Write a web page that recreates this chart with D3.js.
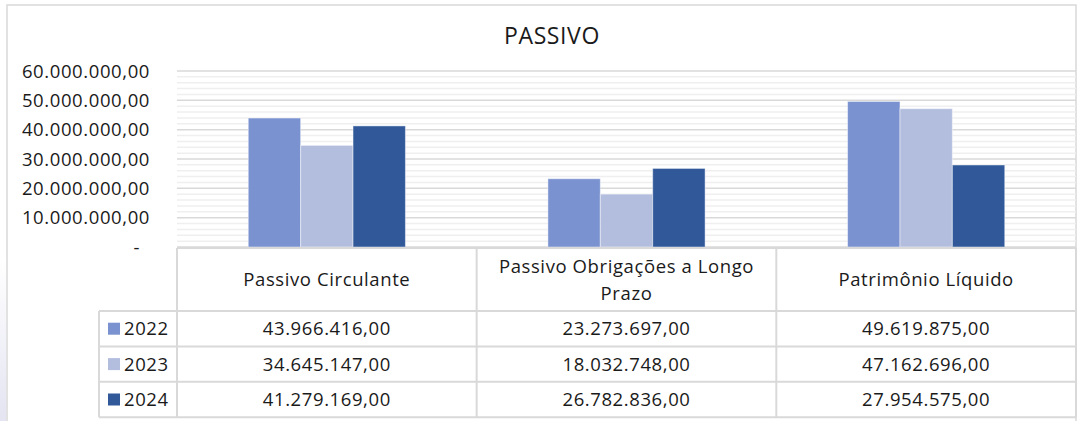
<!DOCTYPE html>
<html>
<head>
<meta charset="utf-8">
<title>PASSIVO</title>
<script src="https://cdnjs.cloudflare.com/ajax/libs/d3/7.8.5/d3.min.js"></script>
<style>
  body { margin: 0; background: #fff; }
  svg text { font-family: "Open Sans", sans-serif; fill: #1a1a1a; letter-spacing: 0.6px; }
</style>
</head>
<body>
<script>
// data
var categories = ["Passivo Circulante", "Passivo Obrigações a Longo Prazo", "Patrimônio Líquido"];
var years = ["2022", "2023", "2024"];
var values2022 = [43966416, 23273697, 49619875];
var values2023 = [34645147, 18032748, 47162696];
var values2024 = [41279169, 26782836, 27954575];
var yTicks = [0, 10000000, 20000000, 30000000, 40000000, 50000000, 60000000];
var colors = ["#7a92cf", "#b3bedf", "#31599a"];

var series = [values2022, values2023, values2024];

var W = 1081, H = 421;
var fs = "18.5px";
var svg = d3.select("body").append("svg").attr("width", W).attr("height", H);

// faint lavender strip on the far left
var grad = svg.append("defs").append("linearGradient")
  .attr("id", "lav").attr("x1", 0).attr("x2", 0).attr("y1", 0).attr("y2", 1);
grad.append("stop").attr("offset", "0%").attr("stop-color", "#fff");
grad.append("stop").attr("offset", "100%").attr("stop-color", "#e4e4f2");
svg.append("rect").attr("x", 0).attr("y", 260).attr("width", 6).attr("height", 161).attr("fill", "url(#lav)");

// chart border
svg.append("rect")
  .attr("x", 7).attr("y", 5).attr("width", 1069).attr("height", 430)
  .attr("fill", "#fff").attr("stroke", "#d9d9d9").attr("stroke-width", 1.5);

// title
svg.append("text")
  .attr("x", 552).attr("y", 44)
  .attr("text-anchor", "middle")
  .style("font-size", "23px")
  .text("PASSIVO");

// scales
var x = d3.scaleBand().domain(categories).range([177, 1076]);
var xi = d3.scaleBand().domain(years).range([0, x.bandwidth()]).paddingInner(0).paddingOuter(1.36);
var y = d3.scaleLinear().domain([0, 60000000]).range([247, 71]);

// minor gridlines
svg.append("g").selectAll("line")
  .data(d3.range(0, 60000001, 2000000).filter(function(d) { return d % 10000000 !== 0; }))
  .join("line")
  .attr("x1", 177).attr("x2", 1076)
  .attr("y1", function(d) { return y(d); }).attr("y2", function(d) { return y(d); })
  .attr("stroke", "#efefef").attr("stroke-width", 1.5);

// major gridlines
svg.append("g").selectAll("line")
  .data(yTicks)
  .join("line")
  .attr("x1", 177).attr("x2", 1076)
  .attr("y1", function(d) { return y(d); }).attr("y2", function(d) { return y(d); })
  .attr("stroke", "#d9d9d9").attr("stroke-width", 1.5);

// y axis labels
var br = d3.formatLocale({decimal: ",", thousands: ".", grouping: [3], currency: ["R$", ""]});
var fmt = br.format(",.2f");
var yAxis = d3.axisLeft(y).tickValues(yTicks).tickSize(0).tickPadding(0)
  .tickFormat(function(d) { return d === 0 ? "-" : fmt(d); });
var ya = svg.append("g").attr("transform", "translate(150,0)").call(yAxis);
ya.select(".domain").remove();
ya.selectAll("text").style("font-size", fs).style("font-family", "'Open Sans', sans-serif")
  .attr("fill", "#1a1a1a").attr("dy", "0.34em");
ya.selectAll(".tick").filter(function(d) { return d === 0; }).select("text")
  .attr("x", -10);

// bars
var groups = svg.append("g").selectAll("g")
  .data(years)
  .join("g")
  .attr("fill", function(d, i) { return colors[i]; });

groups.selectAll("rect")
  .data(function(yr, i) { return categories.map(function(c, j) { return {cat: c, yr: yr, v: series[i][j]}; }); })
  .join("rect")
  .attr("x", function(d) { return x(d.cat) + xi(d.yr); })
  .attr("width", xi.bandwidth())
  .attr("y", function(d) { return y(d.v); })
  .attr("height", function(d) { return y(0) - y(d.v); })
  .attr("stroke", "rgba(255,255,255,0.45)").attr("stroke-width", 1);

// data table
var tTop = 248, hdrH = 63, rowH = 35.4;
var legLeft = 99, right = 1076;
var border = svg.append("g").attr("stroke", "#d9d9d9").attr("stroke-width", 2).attr("fill", "none");

// header row
border.append("line").attr("x1", 177).attr("x2", right).attr("y1", tTop).attr("y2", tTop);
// row lines
[0, 1, 2, 3].forEach(function(i) {
  var yy = tTop + hdrH + i * rowH;
  border.append("line").attr("x1", legLeft).attr("x2", right).attr("y1", yy).attr("y2", yy);
});
// vertical lines
border.append("line").attr("x1", legLeft).attr("x2", legLeft).attr("y1", tTop + hdrH).attr("y2", tTop + hdrH + 3 * rowH);
categories.forEach(function(c) {
  border.append("line").attr("x1", x(c)).attr("x2", x(c)).attr("y1", tTop).attr("y2", tTop + hdrH + 3 * rowH);
});
border.append("line").attr("x1", right).attr("x2", right).attr("y1", tTop).attr("y2", tTop + hdrH + 3 * rowH);

// header text
var hdr = svg.append("g");
categories.forEach(function(c) {
  var cx = x(c) + x.bandwidth() / 2;
  var lines = c === "Passivo Obrigações a Longo Prazo" ? ["Passivo Obrigações a Longo", "Prazo"] : [c];
  var cy = tTop + hdrH / 2;
  lines.forEach(function(l, k) {
    hdr.append("text")
      .attr("x", cx)
      .attr("y", cy + (k - (lines.length - 1) / 2) * 27)
      .attr("dy", "0.36em")
      .attr("text-anchor", "middle")
      .style("font-size", fs)
      .text(l);
  });
});

// value rows
years.forEach(function(yr, i) {
  var cy = tTop + hdrH + i * rowH + rowH / 2;
  svg.append("rect").attr("x", 108).attr("y", cy - 6).attr("width", 12).attr("height", 12).attr("fill", colors[i]);
  svg.append("text").attr("x", 124).attr("y", cy).attr("dy", "0.36em")
    .style("font-size", fs).text(yr);
  categories.forEach(function(c, j) {
    svg.append("text")
      .attr("x", x(c) + x.bandwidth() / 2)
      .attr("y", cy).attr("dy", "0.36em")
      .attr("text-anchor", "middle")
      .style("font-size", fs)
      .text(fmt(series[i][j]));
  });
});
</script>
</body>
</html>
